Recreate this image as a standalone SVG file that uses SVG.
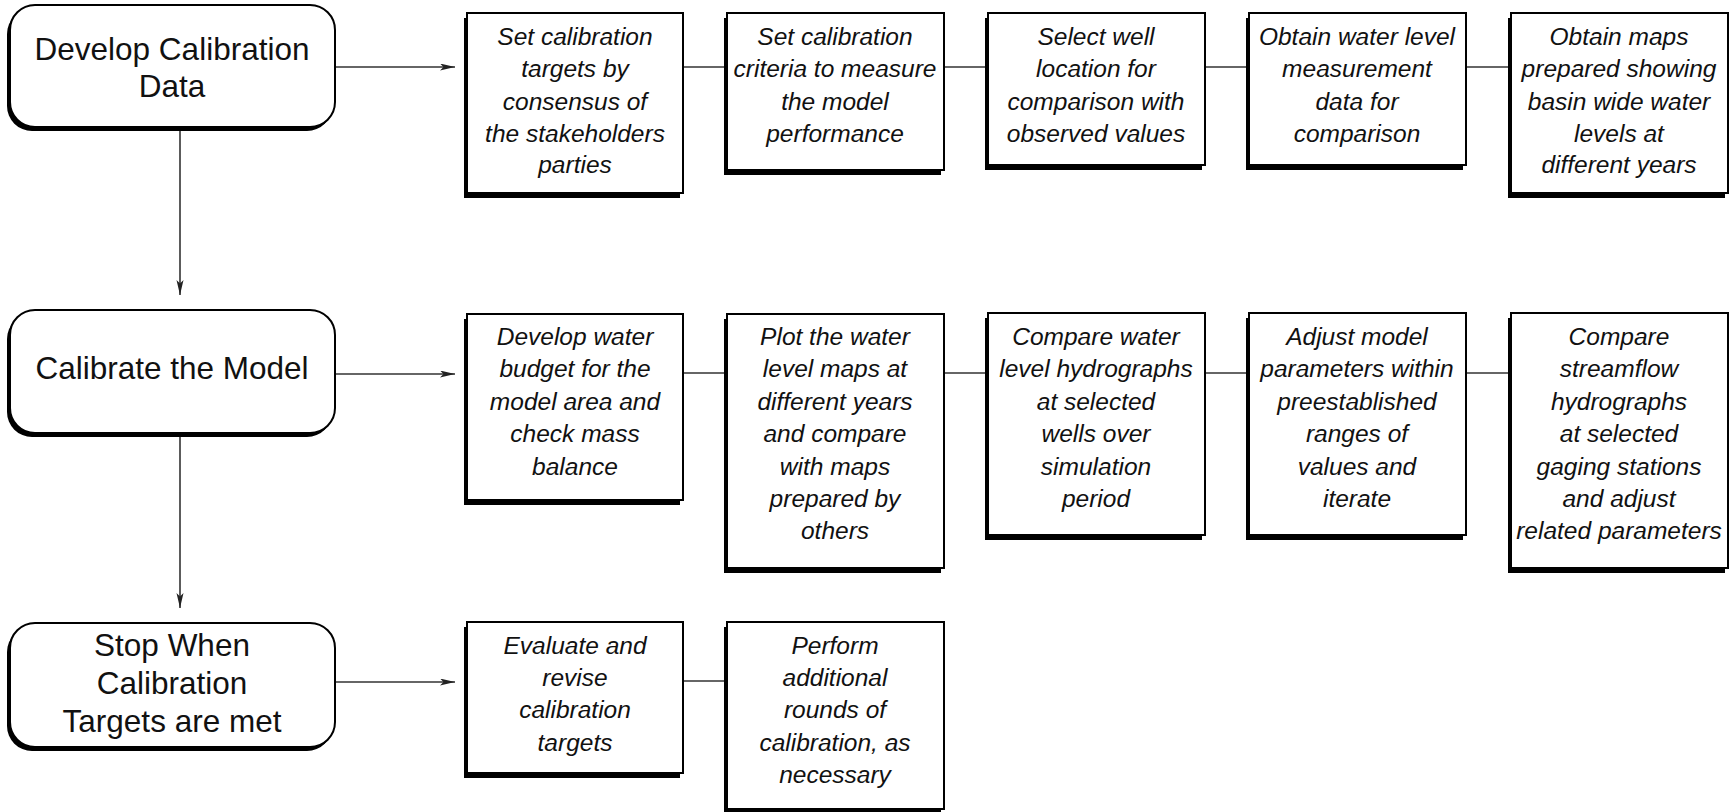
<svg xmlns="http://www.w3.org/2000/svg" width="1731" height="812" viewBox="0 0 1731 812">
<style>
.sh{fill:#000}
.bx{fill:#fff;stroke:#000;stroke-width:2}
.t{font-family:"Liberation Sans",Arial,sans-serif;font-style:italic;font-size:24.5px;text-anchor:middle;fill:#111}
.b{font-family:"Liberation Sans",Arial,sans-serif;font-size:31.5px;text-anchor:middle;fill:#111}
.c{stroke:#333;stroke-width:1.6;fill:none}
</style>
<defs>
<marker id="ah" markerUnits="userSpaceOnUse" markerWidth="16" markerHeight="8" refX="15" refY="3.5" orient="auto" viewBox="0 0 16 8">
<path d="M0,0 L15,3.5 L0,7 L3.5,3.5 z" fill="#222"/>
</marker>
</defs>
<rect width="1731" height="812" fill="#fff"/>

<g id="connectors">
<line class="c" x1="335" y1="67" x2="455" y2="67" marker-end="url(#ah)"/>
<line class="c" x1="335" y1="374" x2="455" y2="374" marker-end="url(#ah)"/>
<line class="c" x1="335" y1="682" x2="455" y2="682" marker-end="url(#ah)"/>
<line class="c" x1="180" y1="130" x2="180" y2="295" marker-end="url(#ah)"/>
<line class="c" x1="180" y1="437" x2="180" y2="608" marker-end="url(#ah)"/>
<line class="c" x1="683" y1="67" x2="727" y2="67"/>
<line class="c" x1="944" y1="67" x2="988" y2="67"/>
<line class="c" x1="1205" y1="67" x2="1249" y2="67"/>
<line class="c" x1="1466" y1="67" x2="1511" y2="67"/>
<line class="c" x1="683" y1="373" x2="727" y2="373"/>
<line class="c" x1="944" y1="373" x2="988" y2="373"/>
<line class="c" x1="1205" y1="373" x2="1249" y2="373"/>
<line class="c" x1="1466" y1="373" x2="1511" y2="373"/>
<line class="c" x1="683" y1="681" x2="727" y2="681"/>
</g>

<g id="develop-data">
<rect class="sh" x="7" y="9" width="325" height="122" rx="25"/>
<rect class="bx" x="10" y="5" width="325" height="122" rx="25"/>
<text class="b" x="172" y="60">Develop Calibration</text>
<text class="b" x="172" y="97">Data</text>
</g>
<g id="calibrate-model">
<rect class="sh" x="7" y="314" width="325" height="123" rx="25"/>
<rect class="bx" x="10" y="310" width="325" height="123" rx="25"/>
<text class="b" x="172" y="379">Calibrate the Model</text>
</g>
<g id="stop-when">
<rect class="sh" x="7" y="627" width="325" height="124" rx="25"/>
<rect class="bx" x="10" y="623" width="325" height="124" rx="25"/>
<text class="b" x="172" y="656">Stop When</text>
<text class="b" x="172" y="694">Calibration</text>
<text class="b" x="172" y="732">Targets are met</text>
</g>

<g id="r1b1">
<rect class="sh" x="464" y="18" width="216" height="180"/>
<rect class="bx" x="467" y="13" width="216" height="180"/>
<text class="t" x="575" y="45">Set calibration</text>
<text class="t" x="575" y="77">targets by</text>
<text class="t" x="575" y="110">consensus of</text>
<text class="t" x="575" y="142">the stakeholders</text>
<text class="t" x="575" y="173">parties</text>
</g>
<g id="r1b2">
<rect class="sh" x="724" y="18" width="217" height="157"/>
<rect class="bx" x="727" y="13" width="217" height="157"/>
<text class="t" x="835" y="45">Set calibration</text>
<text class="t" x="835" y="77">criteria to measure</text>
<text class="t" x="835" y="110">the model</text>
<text class="t" x="835" y="142">performance</text>
</g>
<g id="r1b3">
<rect class="sh" x="985" y="18" width="217" height="152"/>
<rect class="bx" x="988" y="13" width="217" height="152"/>
<text class="t" x="1096" y="45">Select well</text>
<text class="t" x="1096" y="77">location for</text>
<text class="t" x="1096" y="110">comparison with</text>
<text class="t" x="1096" y="142">observed values</text>
</g>
<g id="r1b4">
<rect class="sh" x="1246" y="18" width="217" height="152"/>
<rect class="bx" x="1249" y="13" width="217" height="152"/>
<text class="t" x="1357" y="45">Obtain water level</text>
<text class="t" x="1357" y="77">measurement</text>
<text class="t" x="1357" y="110">data for</text>
<text class="t" x="1357" y="142">comparison</text>
</g>
<g id="r1b5">
<rect class="sh" x="1508" y="18" width="217" height="180"/>
<rect class="bx" x="1511" y="13" width="217" height="180"/>
<text class="t" x="1619" y="45">Obtain maps</text>
<text class="t" x="1619" y="77">prepared showing</text>
<text class="t" x="1619" y="110">basin wide water</text>
<text class="t" x="1619" y="142">levels at</text>
<text class="t" x="1619" y="173">different years</text>
</g>

<g id="r2b1">
<rect class="sh" x="464" y="319" width="216" height="186"/>
<rect class="bx" x="467" y="314" width="216" height="186"/>
<text class="t" x="575" y="345">Develop water</text>
<text class="t" x="575" y="377">budget for the</text>
<text class="t" x="575" y="410">model area and</text>
<text class="t" x="575" y="442">check mass</text>
<text class="t" x="575" y="475">balance</text>
</g>
<g id="r2b2">
<rect class="sh" x="724" y="319" width="217" height="254"/>
<rect class="bx" x="727" y="314" width="217" height="254"/>
<text class="t" x="835" y="345">Plot the water</text>
<text class="t" x="835" y="377">level maps at</text>
<text class="t" x="835" y="410">different years</text>
<text class="t" x="835" y="442">and compare</text>
<text class="t" x="835" y="475">with maps</text>
<text class="t" x="835" y="507">prepared by</text>
<text class="t" x="835" y="539">others</text>
</g>
<g id="r2b3">
<rect class="sh" x="985" y="318" width="217" height="222"/>
<rect class="bx" x="988" y="313" width="217" height="222"/>
<text class="t" x="1096" y="345">Compare water</text>
<text class="t" x="1096" y="377">level hydrographs</text>
<text class="t" x="1096" y="410">at selected</text>
<text class="t" x="1096" y="442">wells over</text>
<text class="t" x="1096" y="475">simulation</text>
<text class="t" x="1096" y="507">period</text>
</g>
<g id="r2b4">
<rect class="sh" x="1246" y="318" width="217" height="222"/>
<rect class="bx" x="1249" y="313" width="217" height="222"/>
<text class="t" x="1357" y="345">Adjust model</text>
<text class="t" x="1357" y="377">parameters within</text>
<text class="t" x="1357" y="410">preestablished</text>
<text class="t" x="1357" y="442">ranges of</text>
<text class="t" x="1357" y="475">values and</text>
<text class="t" x="1357" y="507">iterate</text>
</g>
<g id="r2b5">
<rect class="sh" x="1508" y="318" width="217" height="255"/>
<rect class="bx" x="1511" y="313" width="217" height="255"/>
<text class="t" x="1619" y="345">Compare</text>
<text class="t" x="1619" y="377">streamflow</text>
<text class="t" x="1619" y="410">hydrographs</text>
<text class="t" x="1619" y="442">at selected</text>
<text class="t" x="1619" y="475">gaging stations</text>
<text class="t" x="1619" y="507">and adjust</text>
<text class="t" x="1619" y="539">related parameters</text>
</g>

<g id="r3b1">
<rect class="sh" x="464" y="627" width="216" height="151"/>
<rect class="bx" x="467" y="622" width="216" height="151"/>
<text class="t" x="575" y="654">Evaluate and</text>
<text class="t" x="575" y="686">revise</text>
<text class="t" x="575" y="718">calibration</text>
<text class="t" x="575" y="751">targets</text>
</g>
<g id="r3b2">
<rect class="sh" x="724" y="627" width="217" height="187"/>
<rect class="bx" x="727" y="622" width="217" height="187"/>
<text class="t" x="835" y="654">Perform</text>
<text class="t" x="835" y="686">additional</text>
<text class="t" x="835" y="718">rounds of</text>
<text class="t" x="835" y="751">calibration, as</text>
<text class="t" x="835" y="783">necessary</text>
</g>
</svg>
